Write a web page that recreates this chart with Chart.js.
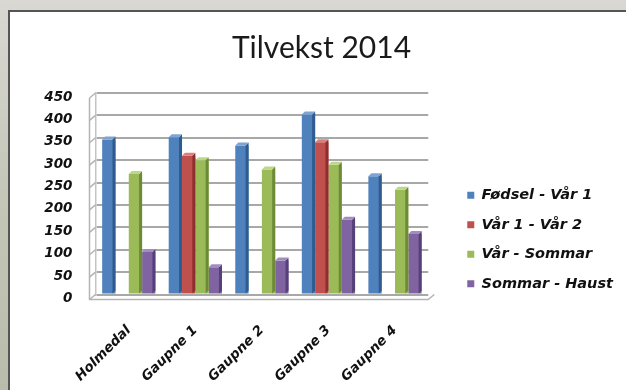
<!DOCTYPE html>
<html>
<head>
<meta charset="utf-8">
<script src="https://cdn.jsdelivr.net/npm/chart.js@4"></script>
<style>
  html, body { margin: 0; padding: 0; background: #cfcfc8; }
  #wrap { width: 626px; height: 390px; }
</style>
</head>
<body>
<div id="wrap"><canvas id="chart" width="626" height="390"></canvas></div>
<script>
// chart data
const categories = ['Holmedal', 'Gaupne 1', 'Gaupne 2', 'Gaupne 3', 'Gaupne 4'];
const seriesNames = ['Fødsel - Vår 1', 'Vår 1 - Vår 2', 'Vår - Sommar', 'Sommar - Haust'];
const fodselVar1 = [346, 351, 333, 402, 264];
const var1Var2 = [0, 310, 0, 340, 0];
const varSommar = [269, 300, 279, 290, 234];
const sommarHaust = [95, 61, 76, 167, 135];
const yTicks = [0, 50, 100, 150, 200, 250, 300, 350, 400, 450];

const colors = ['#4f81bd', '#c0504d', '#9bbb59', '#8064a2'];
const sideColors = ['#2f5b8f', '#8e2f2d', '#6d8a37', '#56407a'];
const topColors = ['#7fa4d4', '#dc7f7c', '#bcd68a', '#a38dc0'];

const labelFont = { family: 'DejaVu Sans', size: 13.5, weight: 'bold', style: 'italic' };

// frame + white panel behind the chart
const background = {
  id: 'background',
  beforeDraw(chart) {
    const ctx = chart.ctx;
    ctx.save();
    const g = ctx.createLinearGradient(0, 0, 0, 390);
    g.addColorStop(0, '#d9d8d2');
    g.addColorStop(0.5, '#c4c6b8');
    g.addColorStop(1, '#b9bcab');
    ctx.fillStyle = g;
    ctx.fillRect(0, 0, 626, 390);
    ctx.fillStyle = '#ffffff';
    ctx.fillRect(9, 11, 617, 379);
    ctx.strokeStyle = '#555555';
    ctx.lineWidth = 2;
    ctx.beginPath();
    ctx.moveTo(9, 390);
    ctx.lineTo(9, 11);
    ctx.lineTo(626, 11);
    ctx.stroke();
    ctx.restore();
  }
};

// little 3D wall and floor edges
const wall3d = {
  id: 'wall3d',
  beforeDatasetsDraw(chart) {
    const ctx = chart.ctx;
    const y = chart.scales.y;
    const a = chart.chartArea;
    ctx.save();
    ctx.strokeStyle = '#b4b4b4';
    ctx.lineWidth = 1.5;
    yTicks.forEach(v => {
      const py = y.getPixelForValue(v);
      ctx.beginPath();
      ctx.moveTo(a.left - 6, py + 5);
      ctx.lineTo(a.left, py);
      ctx.stroke();
    });
    ctx.beginPath();
    ctx.moveTo(a.left - 6, y.getPixelForValue(450) + 5);
    ctx.lineTo(a.left - 6, a.bottom + 5);
    ctx.lineTo(a.right, a.bottom + 5);
    ctx.lineTo(a.right + 6, a.bottom);
    ctx.stroke();
    ctx.restore();
  }
};

// darker side and lighter top on every bar
const bars3d = {
  id: 'bars3d',
  afterDatasetsDraw(chart) {
    const ctx = chart.ctx;
    const d = 3;
    ctx.save();
    chart.data.datasets.forEach((ds, i) => {
      const meta = chart.getDatasetMeta(i);
      meta.data.forEach((bar, j) => {
        if (!ds.data[j]) return;
        const p = bar.getProps(['x', 'y', 'base', 'width'], true);
        const l = p.x - p.width / 2;
        const r = p.x + p.width / 2;
        ctx.fillStyle = sideColors[i];
        ctx.beginPath();
        ctx.moveTo(r - d, p.y);
        ctx.lineTo(r, p.y - d);
        ctx.lineTo(r, p.base - d);
        ctx.lineTo(r - d, p.base);
        ctx.closePath();
        ctx.fill();
        ctx.fillStyle = topColors[i];
        ctx.beginPath();
        ctx.moveTo(l, p.y);
        ctx.lineTo(l + d, p.y - d);
        ctx.lineTo(r, p.y - d);
        ctx.lineTo(r - d, p.y);
        ctx.closePath();
        ctx.fill();
      });
    });
    ctx.restore();
  }
};

const seriesValues = [fodselVar1, var1Var2, varSommar, sommarHaust];

new Chart(document.getElementById('chart').getContext('2d'), {
  type: 'bar',
  data: {
    labels: categories,
    datasets: seriesValues.map((vals, i) => ({
      label: seriesNames[i],
      data: vals,
      backgroundColor: colors[i],
      borderWidth: 0,
      categoryPercentage: 0.8,
      barPercentage: 1.0
    }))
  },
  options: {
    responsive: false,
    animation: false,
    layout: { autoPadding: false, padding: { left: 20, right: 3, top: 12, bottom: 5 } },
    plugins: {
      title: {
        display: true,
        text: 'Tilvekst 2014',
        color: '#1a1a1a',
        font: { family: 'Lato', size: 30, weight: 'normal' },
        padding: { top: 18, bottom: 27 }
      },
      legend: {
        position: 'right',
        align: 'start',
        maxWidth: 200,
        // empty title used only as a spacer to push the items down
        title: { display: true, text: '', font: { size: 10 }, padding: { top: 149, bottom: 0 } },
        labels: {
          boxWidth: 7,
          boxHeight: 7,
          padding: 15,
          color: '#111111',
          font: { family: 'DejaVu Sans', size: 14.5, weight: 'bold', style: 'italic' }
        }
      },
      tooltip: { enabled: false }
    },
    scales: {
      x: {
        grid: { display: false, drawTicks: false },
        border: { display: false },
        ticks: {
          color: '#111111',
          font: labelFont,
          minRotation: 45,
          maxRotation: 45,
          padding: 28
        },
        afterFit: scale => { scale.height = 90.5; }
      },
      y: {
        min: 0,
        max: 450,
        afterBuildTicks: scale => { scale.ticks = yTicks.map(v => ({ value: v })); },
        grid: { color: '#a8a8a8', lineWidth: 2, drawTicks: false },
        border: { display: true, color: '#c4c4c4', width: 1.5 },
        ticks: { color: '#111111', font: labelFont, padding: 23, labelOffset: 4 },
        afterFit: scale => { scale.width = 75.5; }
      },
      gap: {
        position: 'right',
        display: true,
        grid: { display: false, drawTicks: false },
        border: { display: false },
        ticks: { display: false },
        afterFit: scale => { scale.width = 24; }
      }
    }
  },
  plugins: [background, wall3d, bars3d]
});
</script>
</body>
</html>
